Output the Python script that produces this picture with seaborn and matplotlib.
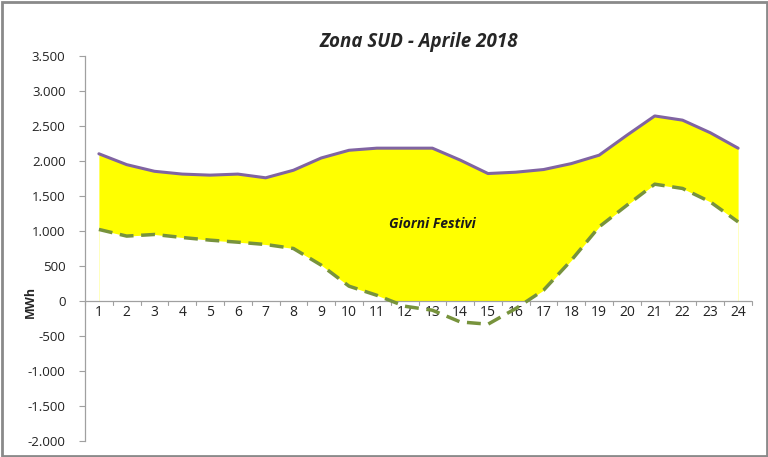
import matplotlib.pyplot as plt
import seaborn as sns
import pandas as pd
import numpy as np
from matplotlib.patches import Rectangle

# Data (MWh per hour)
hours = list(range(1, 25))
upper = [2100, 1945, 1850, 1810, 1795, 1810, 1757, 1865, 2040, 2150, 2180, 2180,
         2180, 2010, 1818, 1837, 1875, 1960, 2080, 2365, 2640, 2580, 2400, 2180]
lower = [1020, 925, 948, 905, 867, 838, 805, 748, 510, 210, 80, -76,
         -133, -300, -333, -109, 153, 580, 1057, 1366, 1666, 1605, 1413, 1128]
y_ticks = [3500, 3000, 2500, 2000, 1500, 1000, 500, 0, -500, -1000, -1500, -2000]

df = pd.DataFrame({'Ora': hours, 'Max': upper, 'Min': lower})

sns.set_theme(style="white")
plt.rcParams['font.family'] = ['Open Sans', 'DejaVu Sans']

fig = plt.figure(figsize=(7.68, 4.57), dpi=100)
ax = fig.add_axes([85 / 768, 1 - 441 / 457, (752 - 85) / 768, (441 - 55.7) / 457])

# Excel-style area: yellow to the upper curve, white to the lower curve
ax.fill_between(df['Ora'], 0, df['Max'], color='#FFFF00', linewidth=0, zorder=1)
ax.fill_between(df['Ora'], 0, df['Min'], color='white', linewidth=0, zorder=2)

sns.lineplot(data=df, x='Ora', y='Max', ax=ax, color='#8064A2', linewidth=2.2, zorder=4)
sns.lineplot(data=df, x='Ora', y='Min', ax=ax, color='#77933C', linewidth=2.5,
             linestyle=(0, (4, 2.2)), zorder=4)

ax.set_xlim(0.5, 24.5)
ax.set_ylim(-2000, 3500)
ax.set_yticks(y_ticks)
ax.set_yticklabels([f"{v:,}".replace(",", ".") for v in y_ticks], fontsize=9.5, color='#222222')
ax.tick_params(axis='y', which='major', left=True, length=4, width=0.8, color='#A0A0A0', pad=10)

# x axis at zero with ticks between categories
ax.axhline(0, color='#A0A0A0', linewidth=0.9, zorder=3)
for b in np.arange(0.5, 25, 1):
    ax.plot([b, b], [0, -55], color='#A0A0A0', linewidth=0.8, zorder=3, clip_on=False)
ax.set_xticks([])
for h in hours:
    ax.text(h, -165, str(h), ha='center', va='center', fontsize=10, color='#222222')

for s in ['top', 'right', 'bottom']:
    ax.spines[s].set_visible(False)
ax.spines['left'].set_color('#A0A0A0')
ax.spines['left'].set_linewidth(0.9)

ax.set_xlabel('')
ax.set_ylabel('MWh', fontsize=9, fontweight='bold', labelpad=6)
ax.yaxis.set_label_coords(-0.072, 0.36)

ax.set_title('Zona SUD - Aprile 2018', fontsize=13.5, fontweight='bold', style='italic', pad=6)
ax.text(13, 1100, 'Giorni Festivi', ha='center', va='center', fontsize=10,
        fontweight='bold', style='italic', color='#1a1a1a', zorder=5)

fig.patches.append(Rectangle((1.5 / 768, 1.5 / 457), 765.5 / 768, 454 / 457,
                             transform=fig.transFigure, fill=False,
                             edgecolor='#8a8a8a', linewidth=2))

fig.savefig('out.png', dpi=100)
plt.close(fig)
